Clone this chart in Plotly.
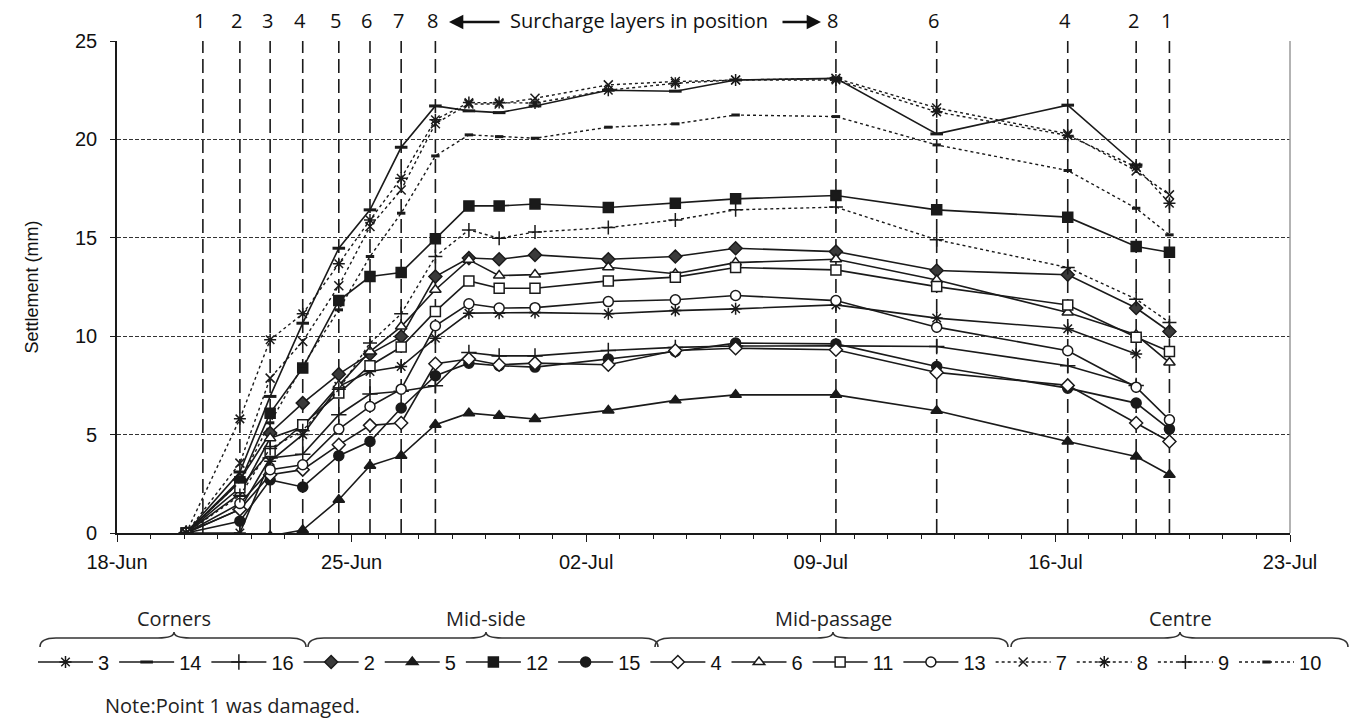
import plotly.graph_objects as go

# ---------------- data ----------------
times = ["2010-06-20 01:30", "2010-06-21 16:00", "2010-06-22 13:40", "2010-06-23 13:00",
         "2010-06-24 14:50", "2010-06-25 13:10", "2010-06-26 11:30", "2010-06-27 12:00",
         "2010-06-28 12:00", "2010-06-29 09:40", "2010-06-30 11:20", "2010-07-02 15:50",
         "2010-07-04 15:50", "2010-07-06 11:00", "2010-07-09 10:50", "2010-07-12 11:00",
         "2010-07-16 08:50", "2010-07-18 09:50", "2010-07-19 09:40"]

p3 = [0, 0, 3.64, 5.0, 7.45, 8.21, 8.46, 9.9, 11.17, 11.17, 11.2, 11.14, 11.3, 11.39, 11.59, 10.92, 10.38, 9.1, None]
p14 = [0, 3.1, 6.94, 10.66, 14.47, 16.42, 19.6, 21.7, 21.45, 21.36, 21.7, 22.5, 22.45, 23.02, 23.1, 20.28, 21.74, 18.7, None]
p16 = [0, 1.2, 3.81, 4.0, 6.01, 7.06, 7.2, 7.48, 9.17, 9.0, 9.0, 9.27, 9.43, 9.5, 9.51, 9.48, 8.5, 7.5, None]
p2 = [0, 2.7, 5.08, 6.6, 8.07, 9.1, 9.98, 13.03, 13.97, 13.91, 14.13, 13.91, 14.05, 14.47, 14.3, 13.34, 13.12, 11.43, 10.24]
p5 = [None, None, -0.15, 0.15, 1.69, 3.42, 3.93, 5.5, 6.09, 5.96, 5.79, 6.23, 6.74, 7.02, 7.02, 6.21, 4.65, 3.89, 2.96]
p12 = [0, 2.6, 6.09, 8.38, 11.81, 13.03, 13.24, 14.95, 16.62, 16.62, 16.72, 16.54, 16.76, 16.98, 17.15, 16.42, 16.05, 14.56, 14.27]
p15 = [0, 0.6, 2.7, 2.34, 3.93, 4.65, 6.35, 7.99, 8.63, 8.5, 8.43, 8.84, 9.22, 9.65, 9.61, 8.46, 7.36, 6.6, 5.28]
p4 = [0, 1.2, 2.96, 3.22, 4.48, 5.47, 5.59, 8.6, 8.84, 8.55, 8.63, 8.55, 9.27, 9.39, 9.31, 8.16, 7.5, 5.59, 4.65]
p6 = [0, 2.0, 4.82, 5.4, 7.5, 9.22, 10.49, 12.36, 13.88, 13.08, 13.13, 13.5, 13.17, 13.74, 13.91, 12.86, 11.2, 10.07, 8.66]
p11 = [0, 2.3, 4.14, 5.5, 7.11, 8.5, 9.45, 11.26, 12.81, 12.44, 12.44, 12.81, 13.0, 13.49, 13.37, 12.52, 11.59, 9.95, 9.22]
p13 = [0, 1.5, 3.22, 3.47, 5.28, 6.43, 7.31, 10.53, 11.65, 11.43, 11.45, 11.76, 11.85, 12.07, 11.81, 10.46, 9.26, 7.41, 5.75]
p7 = [0, 3.55, 7.87, 9.73, 12.56, 15.57, 17.43, 20.8, 21.8, 21.8, 22.09, 22.77, 22.94, 23.02, 23.1, 21.6, 20.28, 18.4, 17.18]
p8 = [0, 5.8, 9.82, 11.14, 13.68, 15.9, 18.03, 21.0, 21.87, 21.87, 21.85, 22.5, 22.85, 23.02, 23.02, 21.4, 20.2, 18.6, 16.76]
p9 = [0, 1.9, 4.3, 5.2, 7.3, 9.65, 11.14, 14.05, 15.4, 14.98, 15.29, 15.52, 15.91, 16.42, 16.56, 14.9, 13.49, 11.88, 10.7]
p10 = [0, 2.6, 5.6, 8.5, 11.34, 14.05, 16.25, 19.16, 20.23, 20.14, 20.06, 20.62, 20.79, 21.24, 21.16, 19.72, 18.42, 16.5, 15.15]

layer_times = ["2010-06-20 13:30", "2010-06-21 16:00", "2010-06-22 13:40", "2010-06-23 13:00",
               "2010-06-24 14:50", "2010-06-25 13:10", "2010-06-26 11:30", "2010-06-27 12:00",
               "2010-07-09 10:50", "2010-07-12 11:00", "2010-07-16 08:50", "2010-07-18 09:50",
               "2010-07-19 09:40"]
layer_labels = ["1", "2", "3", "4", "5", "6", "7", "8", "8", "6", "4", "2", "1"]

groups = ["Corners", "Mid-side", "Mid-passage", "Centre"]

# ---------------- geometry helpers (layout only) ----------------
W, H = 1361, 724
ML, MR, MT, MB = 117, 71, 41, 191
PW, PH = W - ML - MR, H - MT - MB


def px2x(px):
    return (px - ML) / PW


def px2y(py):
    return (MT + PH - py) / PH


INK = "#1a1a1a"

# name, values, symbol, fill, size, dash
series = [
    ("3", p3, "asterisk-open", INK, 10, "solid"),
    ("14", p14, "line-ew-open", INK, 9, "solid"),
    ("16", p16, "cross-thin-open", INK, 11, "solid"),
    ("2", p2, "diamond", "#3a3a3a", 10, "solid"),
    ("5", p5, "triangle-up", INK, 10, "solid"),
    ("12", p12, "square", INK, 10, "solid"),
    ("15", p15, "circle", INK, 10, "solid"),
    ("4", p4, "diamond", "white", 10, "solid"),
    ("6", p6, "triangle-up", "white", 10, "solid"),
    ("11", p11, "square", "white", 10, "solid"),
    ("13", p13, "circle", "white", 10, "solid"),
    ("7", p7, "x-thin-open", INK, 9, "dot"),
    ("8", p8, "asterisk-open", INK, 10, "dot"),
    ("9", p9, "cross-thin-open", INK, 10, "dot"),
    ("10", p10, "line-ew-open", INK, 6, "dot"),
]

fig = go.Figure()
for name, vals, sym, fill, size, dash in series:
    lw_marker = 3 if sym == "line-ew-open" else 1.5
    fig.add_trace(go.Scatter(
        x=times, y=vals, name=name, mode="lines+markers",
        line=dict(color=INK, width=1.6 if dash == "solid" else 1.4, dash=dash),
        marker=dict(symbol=sym, size=size, color=fill,
                    line=dict(color=INK, width=lw_marker)),
        connectgaps=False,
    ))

shapes = []
annotations = []

# vertical layer lines and their labels
for t, lab in zip(layer_times, layer_labels):
    shapes.append(dict(type="line", xref="x", yref="y", x0=t, x1=t, y0=0, y1=25,
                       line=dict(color=INK, width=1.6, dash="14px,6px"), layer="below"))
    annotations.append(dict(x=t, xref="x", y=px2y(21), yref="paper", text=lab,
                            showarrow=False, xshift=-3, xanchor="center", yanchor="middle",
                            font=dict(family="Open Sans", size=20, color="#111")))

# surcharge text with arrows
annotations.append(dict(x=px2x(639), y=px2y(21), xref="paper", yref="paper",
                        xanchor="center", yanchor="middle",
                        text="Surcharge layers in position", showarrow=False,
                        font=dict(family="Open Sans", size=20, color="#111")))
annotations.append(dict(x=px2x(449), y=px2y(22), xref="paper", yref="paper", text="",
                        showarrow=True, ax=52, ay=0, arrowhead=2, arrowsize=1.1,
                        arrowwidth=2.6, arrowcolor="#111"))
annotations.append(dict(x=px2x(821), y=px2y(22), xref="paper", yref="paper", text="",
                        showarrow=True, ax=-40, ay=0, arrowhead=2, arrowsize=1.1,
                        arrowwidth=2.6, arrowcolor="#111"))

# right border
shapes.append(dict(type="line", xref="paper", yref="paper", x0=1, x1=1, y0=0, y1=1,
                   line=dict(color="#9a9a9a", width=1.5)))

# braces + group labels
brace_spans = [(40, 306, 174), (308, 658, 486), (655, 1008, 833), (1011, 1348, 1180)]
for (a, b, m), g in zip(brace_spans, groups):
    yb, yl, yt = 647, 638, 632
    r = 16
    path = (f"M{px2x(a)},{px2y(yb)} Q{px2x(a)},{px2y(yl)} {px2x(a + r)},{px2y(yl)} "
            f"L{px2x(m - r)},{px2y(yl)} Q{px2x(m)},{px2y(yl)} {px2x(m)},{px2y(yt)} "
            f"Q{px2x(m)},{px2y(yl)} {px2x(m + r)},{px2y(yl)} "
            f"L{px2x(b - r)},{px2y(yl)} Q{px2x(b)},{px2y(yl)} {px2x(b)},{px2y(yb)}")
    shapes.append(dict(type="path", xref="paper", yref="paper", path=path,
                       line=dict(color="#333", width=1.6)))
    annotations.append(dict(x=px2x(m), y=px2y(618), xref="paper", yref="paper",
                            xanchor="center", yanchor="middle",
                            text=g, showarrow=False,
                            font=dict(family="Open Sans", size=20, color="#222")))

annotations.append(dict(x=px2x(103), y=px2y(705), xref="paper", yref="paper",
                        xanchor="left", yanchor="middle",
                        text="Note:Point 1 was damaged.", showarrow=False,
                        font=dict(family="Open Sans", size=20, color="#222")))

fig.update_layout(
    width=W, height=H,
    margin=dict(l=ML, r=MR, t=MT, b=MB),
    plot_bgcolor="white", paper_bgcolor="white",
    shapes=shapes, annotations=annotations,
    font=dict(family="Liberation Sans", color="#111"),
    showlegend=True,
    legend=dict(orientation="h", x=px2x(33), xanchor="left", y=px2y(662), yanchor="middle",
                font=dict(family="Liberation Sans", size=20, color="#111"),
                itemwidth=55,
                bgcolor="rgba(0,0,0,0)", tracegroupgap=0),
    xaxis=dict(type="date", range=["2010-06-18", "2010-07-23"],
               tick0="2010-06-18", dtick=7 * 86400000, tickformat="%d-%b",
               ticks="outside", ticklen=7, tickcolor=INK, tickwidth=1.3,
               showline=True, linecolor=INK, linewidth=1.6,
               showgrid=False, zeroline=False, ticklabelstandoff=3,
               tickfont=dict(family="Liberation Sans", size=20, color="#111"),
               minor=dict(dtick=86400000, ticks="outside", ticklen=4,
                          tickcolor=INK, tickwidth=1.1, showgrid=False)),
    yaxis=dict(range=[0, 25], dtick=5, ticks="outside", ticklen=5, tickcolor=INK,
               showline=True, linecolor=INK, linewidth=1.6,
               showgrid=True, gridcolor="#333", griddash="4px,2px", gridwidth=1.2,
               zeroline=False, ticklabelstandoff=9,
               tickfont=dict(family="Liberation Sans", size=20, color="#111"),
               title=dict(text="Settlement (mm)", standoff=32,
                          font=dict(family="Liberation Sans", size=18, color="#111"))),
)

fig.write_html("out.html")
